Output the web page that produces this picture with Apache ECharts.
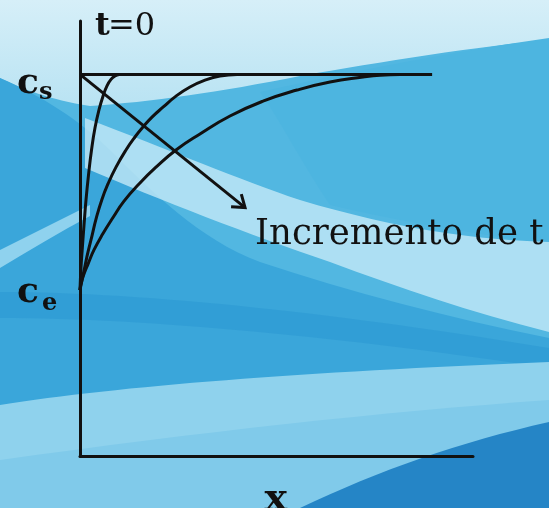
<!DOCTYPE html>
<html>
<head>
<meta charset="utf-8">
<title>Perfil de concentración</title>
<script src="https://cdn.jsdelivr.net/npm/echarts@6/dist/echarts.min.js"></script>
<style>
  html, body { margin: 0; padding: 0; background: #56b9e2; }
  #chart { width: 549px; height: 508px; }
</style>
</head>
<body>
<div id="chart"></div>
<script>
// Concentration levels (normalised): surface value c_e and bulk value c_s
const cS = 1.0;
const cE = 0.435;

// Initial profile t = 0 (step at the bulk value)
const initialX = [0, 8.96];
const initialY = [cS, cS];

// Profiles for increasing time, read along the position axis x
const profile1X = [0, 0.025, 0.059, 0.102, 0.153, 0.216, 0.293, 0.382, 0.483, 0.585, 0.687, 0.789, 0.891, 0.992];
const profile1Y = [0.435, 0.493, 0.545, 0.605, 0.671, 0.736, 0.802, 0.860, 0.907, 0.943, 0.970, 0.987, 0.996, 1.0];

const profile2X = [0, 0.051, 0.127, 0.204, 0.305, 0.407, 0.560, 0.712, 0.916, 1.170, 1.399, 1.603, 1.832, 2.112, 2.443, 2.799, 3.181, 3.562, 3.995];
const profile2Y = [0.435, 0.461, 0.498, 0.535, 0.577, 0.621, 0.673, 0.713, 0.757, 0.802, 0.836, 0.862, 0.888, 0.914, 0.943, 0.967, 0.985, 0.996, 1.0];

const profile3X = [0, 0.025, 0.102, 0.204, 0.356, 0.585, 0.840, 1.120, 1.501, 1.934, 2.443, 3.053, 3.817, 4.657, 5.522, 6.361, 7.201, 7.634, 8.142];
const profile3Y = [0.435, 0.451, 0.477, 0.503, 0.540, 0.583, 0.625, 0.668, 0.713, 0.757, 0.802, 0.844, 0.891, 0.930, 0.959, 0.980, 0.993, 0.998, 1.0];

// Arrow showing the direction of increasing time
const arrowFrom = [0, cS];
const arrowTo = [4.2, 0.651];

// Axis ranges
const xRange = [0, 10];
const yRange = [0, 1.14];

const zip = (xs, ys) => xs.map((x, i) => [x, ys[i]]);

const ink = '#111111';
const curveStyle = { color: ink, width: 3 };

const chart = echarts.init(document.getElementById('chart'), null, { renderer: 'canvas' });

// Decorative wave background (canvas pixel space), drawn behind the plot
const bg = [
  { d: 'M0,0 H549 V508 H0 Z', fill: '#52b7e1' },
  { d: 'M0,0 H549 V40 C480,46 380,62 300,76 C220,92 150,102 90,106 C50,100 20,88 0,78 Z',
    fill: new echarts.graphic.LinearGradient(0, 0, 0, 1, [{ offset: 0, color: '#d6eff8' }, { offset: 1, color: '#b9e3f3' }]) },
  { d: 'M0,78 C40,95 80,120 110,150 C150,190 200,240 260,262 C350,292 450,318 549,338 L549,400 L0,410 Z', fill: '#3aa6da' },
  { d: 'M0,250 C30,235 60,220 90,205 L90,216 C60,232 30,250 0,268 Z', fill: '#8fd2ee' },
  { d: 'M260,92 C350,72 450,52 549,38 L549,245 C470,232 400,222 330,205 C300,160 280,120 260,92 Z', fill: '#4db5e0' },
  { d: 'M85,118 C170,150 240,180 300,200 C400,230 480,240 549,242 L549,332 C470,312 400,288 330,262 C250,235 160,200 85,168 Z', fill: 'rgba(198,234,247,0.78)' },
  { d: 'M0,292 C150,292 350,315 549,348 L549,368 C350,338 150,318 0,318 Z', fill: 'rgba(40,148,208,0.45)' },
  { d: 'M0,405 C120,386 300,372 549,362 L549,402 C400,412 250,432 0,462 Z', fill: '#8fd2ed' },
  { d: 'M0,460 C200,432 380,412 549,400 L549,508 H0 Z', fill: '#80caea' },
  { d: 'M300,508 C380,470 460,442 549,422 L549,508 Z', fill: '#2585c6' }
];

const profileSeries = (xs, ys) => ({
  type: 'line', data: zip(xs, ys), symbol: 'none',
  smooth: 0.5, lineStyle: curveStyle, z: 3
});

chart.setOption({
  animation: false,
  backgroundColor: 'transparent',
  grid: { left: 80, right: 76, top: 21, bottom: 52, containLabel: false },
  xAxis: {
    type: 'value', min: xRange[0], max: xRange[1], z: 5,
    axisLine: { show: true, lineStyle: { color: ink, width: 3 } },
    axisTick: { show: false }, axisLabel: { show: false }, splitLine: { show: false }
  },
  yAxis: {
    type: 'value', min: yRange[0], max: yRange[1], z: 5,
    axisLine: { show: true, lineStyle: { color: ink, width: 3 } },
    axisTick: { show: false }, axisLabel: { show: false }, splitLine: { show: false }
  },
  series: [
    {
      type: 'custom', z: -10, silent: true, clip: false,
      data: [[0, 0]],
      renderItem: function () {
        return {
          type: 'group',
          children: bg.map((b) => ({ type: 'path', shape: { pathData: b.d }, style: { fill: b.fill } }))
        };
      }
    },
    { type: 'line', data: zip(initialX, initialY), symbol: 'none', lineStyle: curveStyle, z: 3 },
    profileSeries(profile1X, profile1Y),
    profileSeries(profile2X, profile2Y),
    profileSeries(profile3X, profile3Y),
    {
      type: 'custom', z: 4, silent: true,
      data: [[arrowFrom[0], arrowFrom[1], arrowTo[0], arrowTo[1]]],
      renderItem: function (params, api) {
        const a = api.coord([api.value(0), api.value(1)]);
        const b = api.coord([api.value(2), api.value(3)]);
        const ang = Math.atan2(b[1] - a[1], b[0] - a[0]);
        const len = 14, spread = 0.62;
        const p1 = [b[0] - len * Math.cos(ang - spread), b[1] - len * Math.sin(ang - spread)];
        const p2 = [b[0] - len * Math.cos(ang + spread), b[1] - len * Math.sin(ang + spread)];
        return {
          type: 'group',
          children: [
            { type: 'line', shape: { x1: a[0], y1: a[1], x2: b[0], y2: b[1] }, style: { stroke: ink, lineWidth: 3 } },
            { type: 'polyline', shape: { points: [p1, b, p2] }, style: { stroke: ink, lineWidth: 3, fill: null, lineJoin: 'miter' } }
          ]
        };
      }
    }
  ]
});

// Text labels placed relative to the plotted values
const px = (v) => chart.convertToPixel({ gridIndex: 0 }, v);
const pS = px([0, cS]);
const pE = px([0, cE]);
const pTop = px([0, yRange[1]]);
const pArrow = px(arrowTo);
const pX = px([(xRange[0] + xRange[1]) / 2, 0]);

const serifBold = 'bold 36px "DejaVu Serif"';
const label = (id, text, x, y, font) => ({
  type: 'text', id: id, z: 50, silent: true, x: x, y: y,
  style: { text: text, font: font, fill: ink, textAlign: 'left', textVerticalAlign: 'bottom' }
});

chart.setOption({
  graphic: [
    label('cs-c', 'c', pS[0] - 63, pS[1] + 27, serifBold),
    label('cs-s', 's', pS[0] - 41, pS[1] + 30, 'bold 24px "DejaVu Serif"'),
    label('ce-c', 'c', pE[0] - 63, pE[1] + 21, serifBold),
    label('ce-e', 'e', pE[0] - 38, pE[1] + 26, 'bold 24px "DejaVu Serif"'),
    label('t0-t', 't', pTop[0] + 15, pTop[1] + 22, 'bold 32px "DejaVu Serif"'),
    label('t0-rest', '=0', pTop[0] + 28, pTop[1] + 22, '32px "DejaVu Serif"'),
    label('incr', 'Incremento de t', pArrow[0] + 10, pArrow[1] + 45, '35.5px "DejaVu Serif"'),
    label('xname', 'x', pX[0] - 12, pX[1] + 63, 'bold 38px "DejaVu Serif"')
  ]
});
</script>
</body>
</html>
